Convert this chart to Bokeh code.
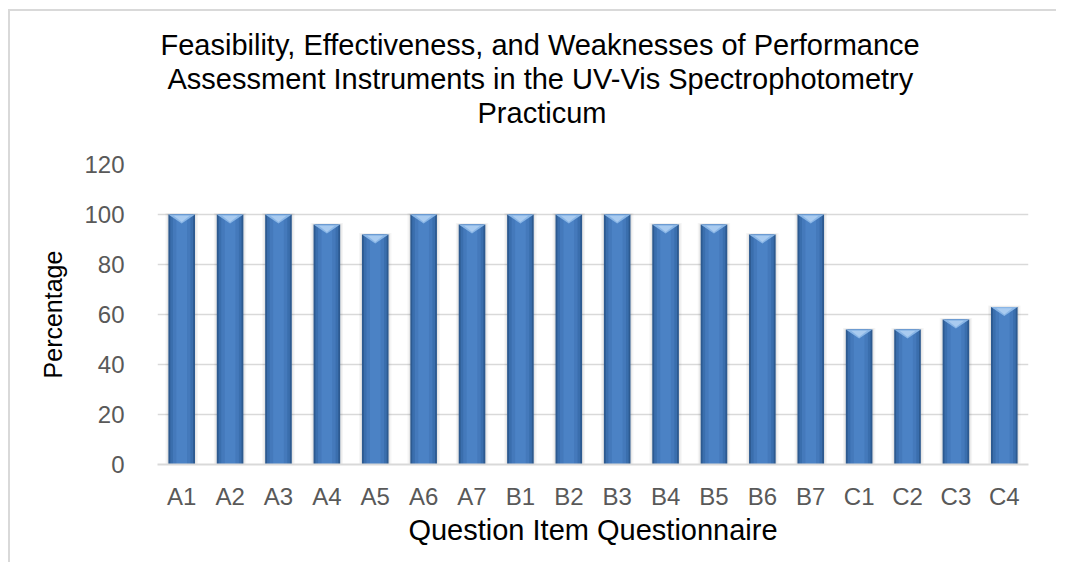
from bokeh.plotting import figure
from bokeh.models import Range1d, FixedTicker, Title
from bokeh.embed import file_html
from bokeh.resources import INLINE

# ---- data ----
items = ["A1", "A2", "A3", "A4", "A5", "A6", "A7",
         "B1", "B2", "B3", "B4", "B5", "B6", "B7",
         "C1", "C2", "C3", "C4"]
percent = [100, 100, 100, 96, 92, 100, 96,
           100, 100, 100, 96, 96, 92, 100,
           54, 54, 58, 63]
y_ticks = [0, 20, 40, 60, 80, 100, 120]
title_lines = ["Feasibility, Effectiveness, and Weaknesses of Performance",
               "Assessment Instruments in the UV-Vis Spectrophotometry",
               "Practicum"]
x_title = "Question Item Questionnaire"
y_title = "Percentage"

FONT = "Liberation Sans"
xpos = list(range(len(items)))
BW = 0.55

p = figure(width=1056, height=562, output_backend="svg", toolbar_location=None,
           x_range=Range1d(-0.5, len(items) - 0.5), y_range=Range1d(0, 120),
           min_border_left=157, min_border_right=28, min_border_top=164,
           min_border_bottom=98)
p.styles = {"background": "linear-gradient(#d9d9d9,#d9d9d9) 8px 9px / 2px 100% no-repeat, "
                          "linear-gradient(#d9d9d9,#d9d9d9) 8px 9px / 100% 2px no-repeat, white"}
p.outline_line_color = None
p.background_fill_color = "white"
p.border_fill_color = None

# grid
p.xgrid.grid_line_color = None
p.ygrid.ticker = FixedTicker(ticks=y_ticks)
p.ygrid.grid_line_color = "#d9d9d9"
p.ygrid.grid_line_width = 1.5

# y axis
p.yaxis.ticker = FixedTicker(ticks=y_ticks)
p.yaxis.axis_line_color = None
p.yaxis.major_tick_line_color = None
p.yaxis.minor_tick_line_color = None
p.yaxis.major_label_text_font = FONT
p.yaxis.major_label_text_font_size = "24px"
p.yaxis.major_label_text_color = "#595959"
p.yaxis.major_label_standoff = 27
p.yaxis.axis_label = y_title
p.yaxis.axis_label_text_font = FONT
p.yaxis.axis_label_text_font_size = "25px"
p.yaxis.axis_label_text_font_style = "normal"
p.yaxis.axis_label_text_color = "#000000"
p.yaxis.axis_label_standoff = 14

# x axis
p.xaxis.ticker = FixedTicker(ticks=xpos)
p.xaxis.major_label_overrides = {i: s for i, s in zip(xpos, items)}
p.xaxis.axis_line_color = "#d9d9d9"
p.xaxis.axis_line_width = 2
p.xaxis.major_tick_line_color = None
p.xaxis.minor_tick_line_color = None
p.xaxis.major_label_text_font = FONT
p.xaxis.major_label_text_font_size = "24px"
p.xaxis.major_label_text_color = "#595959"
p.xaxis.major_label_standoff = 12
p.xaxis.axis_label = x_title
p.xaxis.axis_label_text_font = FONT
p.xaxis.axis_label_text_font_size = "29px"
p.xaxis.axis_label_text_font_style = "normal"
p.xaxis.axis_label_text_color = "#000000"
p.xaxis.axis_label_standoff = 1

# bars: soft shadow, dark edge, lighter body, top bevel
p.vbar(x=xpos, top=[v + 0.6 for v in percent], width=BW + 0.12, fill_color="#000000",
       fill_alpha=0.04, line_color=None)
p.vbar(x=xpos, top=[v + 0.3 for v in percent], width=BW + 0.06, fill_color="#000000",
       fill_alpha=0.06, line_color=None)
p.vbar(x=xpos, top=percent, width=BW, fill_color="#2d5a90", line_color=None)
p.vbar(x=xpos, top=percent, width=BW * 0.86, fill_color="#3a6ead", line_color=None)
p.vbar(x=xpos, top=percent, width=BW * 0.66, fill_color="#4479bb", line_color=None)
p.vbar(x=xpos, top=percent, width=BW * 0.4, fill_color="#4b82c5", line_color=None)
bev_x = [[x - BW / 2, x + BW / 2, x] for x in xpos]
bev_y = [[v, v, v - 3.6] for v in percent]
p.patches(bev_x, bev_y, fill_color="#8ab6e6", line_color=None)
bev_x2 = [[x - BW * 0.3, x + BW * 0.3, x] for x in xpos]
bev_y2 = [[v - 0.5, v - 0.5, v - 3.0] for v in percent]
p.patches(bev_x2, bev_y2, fill_color="#a9cbf0", line_color=None)

# spacer between the title block and the plot area
p.add_layout(Title(text=" ", text_font_size="1px", standoff=33), "above")

# title: three lines, stacked outward from the frame (last line added first)
title_offsets = [3, 10, 320]
for line, off in reversed(list(zip(title_lines, title_offsets))):
    p.add_layout(Title(text=line, align="left", offset=off, standoff=0,
                       text_font=FONT, text_font_size="29px", text_font_style="normal",
                       text_color="#000000"), "above")

open("out.html", "w").write(file_html(p, INLINE))
